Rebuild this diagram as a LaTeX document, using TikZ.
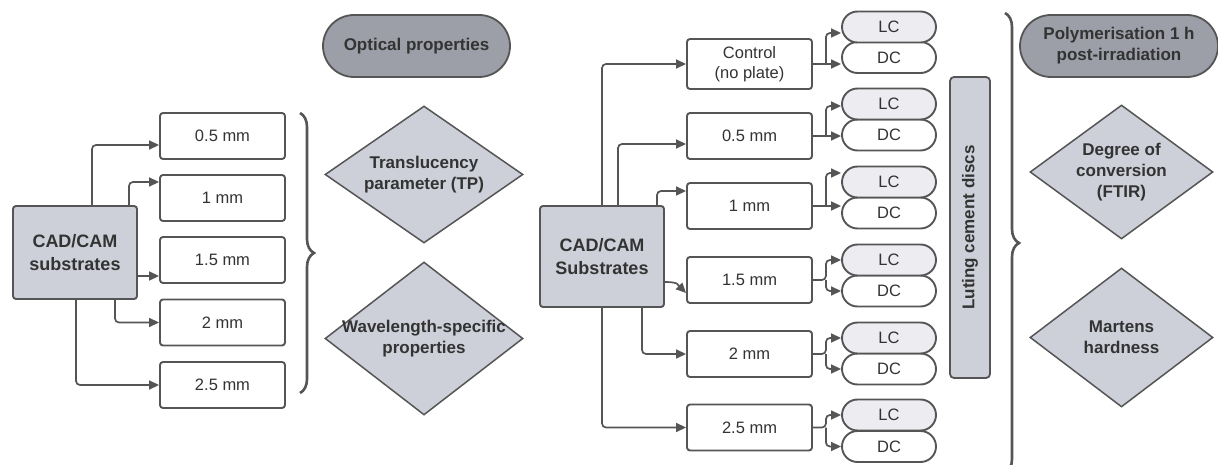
\documentclass[tikz,border=0pt]{standalone}
\usepackage{fontspec}
\setmainfont{Liberation Sans}
\usetikzlibrary{arrows.meta,shapes.geometric,decorations.pathreplacing,calc}
\definecolor{linec}{HTML}{555555}
\definecolor{boxfill}{HTML}{CDD0D9}
\definecolor{pillfill}{HTML}{9C9FA8}
\definecolor{lcfill}{HTML}{EDEDF1}
\definecolor{txt}{HTML}{333333}
\begin{document}
\begin{tikzpicture}[x=1pt,y=-1pt,
 every node/.style={text=txt},
 thkbox/.style={draw=linec,line width=1.9pt,rounded corners=3pt,fill=white,minimum width=125pt,minimum height=46pt,inner sep=0pt,font=\fontsize{16.5}{19.5}\selectfont,align=center},
 mainbox/.style={draw=linec,line width=1.9pt,rounded corners=3pt,fill=boxfill,inner sep=0pt,font=\bfseries\fontsize{18}{23}\selectfont,align=center},
 pill/.style={draw=linec,line width=1.8pt,fill=pillfill,inner sep=0pt,font=\bfseries\fontsize{17}{21}\selectfont,align=center},
 dia/.style={diamond,draw=linec,line width=1.5pt,fill=boxfill,inner sep=0pt},
 diatext/.style={inner sep=0pt,font=\bfseries\fontsize{17}{21}\selectfont,align=center},
 cpill/.style={draw=linec,line width=1.9pt,rounded corners=15.5pt,minimum width=94pt,minimum height=31pt,inner sep=0pt,font=\fontsize{16.5}{19}\selectfont},
 lcp/.style={cpill,fill=lcfill},
 dcp/.style={cpill,fill=white},
 arr/.style={draw=linec,line width=1.7pt,rounded corners=4pt,-{Triangle[length=10pt,width=9pt]}},
 brc/.style={draw=linec,line width=2.6pt,decorate,decoration={brace,amplitude=14pt}}
]
\useasboundingbox[fill=white] (0,0) rectangle (1218,465);

% ---------- left part ----------
\node[mainbox,minimum width=124pt,minimum height=93pt] (L) at (75,252.5) {CAD/CAM\\substrates};
\node[thkbox] (b1) at (222.5,136) {0.5 mm};
\node[thkbox] (b2) at (222.5,198) {1 mm};
\node[thkbox] (b3) at (222.5,260) {1.5 mm};
\node[thkbox] (b4) at (222.5,322.5) {2 mm};
\node[thkbox] (b5) at (222.5,385) {2.5 mm};

\coordinate (t3) at ($(b3.west)+(0,16)$);
\draw[arr] ($(L.north)+(17,0)$) |- ($(b1.west)+(0,9)$);
\draw[arr] ($(L.north)+(54,0)$) |- ($(b2.west)+(0,-16)$);
\draw[arr] (L.east |- t3) -- (t3);
\draw[arr] ($(L.south)+(40,0)$) |- (b4.west);
\draw[arr] ($(L.south)+(1,0)$) |- (b5.west);

\coordinate (lbt) at (300,113);
\coordinate (lbb) at (300,393);
\draw[brc] (lbt) -- (lbb);

\node[pill,minimum width=187pt,minimum height=62pt,rounded corners=31pt] (op) at (416.5,46) {Optical properties};
\node[dia,minimum width=198pt,minimum height=137pt] (d1) at (424,174.5) {};
\node[diatext] (d1t) at (d1) {Translucency\\parameter (TP)};
\node[dia,minimum width=198pt,minimum height=153pt] (d2) at (424,338.5) {};
\node[diatext] (d2t) at (d2) {Wavelength-specific\\properties};

% ---------- right part ----------
\node[mainbox,minimum width=124pt,minimum height=101pt] (R) at (602,256.5) {CAD/CAM\\Substrates};
\node[thkbox,minimum height=50pt] (c0) at (749.5,64) {Control\\(no plate)};
\node[thkbox] (c1) at (749.5,136) {0.5 mm};
\node[thkbox] (c2) at (749.5,206) {1 mm};
\node[thkbox] (c3) at (749.5,280) {1.5 mm};
\node[thkbox] (c4) at (749.5,354) {2 mm};
\node[thkbox] (c5) at (749.5,427.5) {2.5 mm};

\draw[arr] (R.north) |- (c0.west);
\draw[arr] ($(R.north)+(16,0)$) |- ($(c1.west)+(0,8)$);
\draw[arr] ($(R.north)+(55,0)$) |- ($(c2.west)+(0,-15)$);
\draw[arr] ($(R.east)+(0,25.5)$) .. controls +(14,0) and +(-8,-8) .. ($(c3.west)+(0,13)$);
\draw[arr] ($(R.south)+(40,0)$) |- (c4.west);
\draw[arr] (R.south) |- (c5.west);

% LC / DC pills
\node[dcp] (dc1) at (889,57.5) {DC};
\node[lcp] (lc1) at (889,27) {LC};
\node[dcp] (dc2) at (889,135) {DC};
\node[lcp] (lc2) at (889,104) {LC};
\node[dcp] (dc3) at (889,213) {DC};
\node[lcp] (lc3) at (889,182) {LC};
\node[dcp] (dc4) at (889,291) {DC};
\node[lcp] (lc4) at (889,260) {LC};
\node[dcp] (dc5) at (889,369) {DC};
\node[lcp] (lc5) at (889,338) {LC};
\node[dcp] (dc6) at (889,446.5) {DC};
\node[lcp] (lc6) at (889,415) {LC};

% forks
\draw[arr] (c0.east) -- (dc1.west |- c0.east);
\draw[arr] ($(c0.east)+(13,0)$) |- ($(lc1.west)+(0,6)$);
\draw[arr] (c1.east) -- (dc2.west |- c1.east);
\draw[arr] ($(c1.east)+(13,0)$) |- ($(lc2.west)+(0,2)$);
\draw[arr] (c2.east) -- (dc3.west |- c2.east);
\draw[arr] ($(c2.east)+(13,0)$) |- ($(lc3.west)+(0,-9)$);
\draw[arr] (c3.east) -- ++(13,0) |- (lc4.west);
\draw[arr] ($(c3.east)+(13,0)$) |- (dc4.west);
\draw[arr] (c4.east) -- ++(13,0) |- (lc5.west);
\draw[arr] ($(c4.east)+(13,0)$) |- (dc5.west);
\draw[arr] (c5.east) -- ++(13,0) |- (lc6.west);
\draw[arr] ($(c5.east)+(13,0)$) |- (dc6.west);

\node[rotate=90,draw=linec,line width=1.8pt,rounded corners=4pt,fill=boxfill,minimum width=301pt,minimum height=40pt,inner sep=0pt,font=\bfseries\fontsize{17}{20}\selectfont] (lut) at (970,227.5) {Luting cement discs};

\coordinate (rbt) at (1005,13);
\coordinate (rbb) at (1005,473);
\draw[brc] (rbt) -- (rbb);

\node[pill,minimum width=198pt,minimum height=62pt,rounded corners=31pt] (pol) at (1119,46) {Polymerisation 1 h\\post-irradiation};
\node[dia,minimum width=183pt,minimum height=134pt] (d3) at (1121.5,172) {};
\node[diatext] (d3t) at (d3) {Degree of\\conversion\\(FTIR)};
\node[dia,minimum width=183pt,minimum height=139pt] (d4) at (1121.5,337.5) {};
\node[diatext] (d4t) at (d4) {Martens\\hardness};
\end{tikzpicture}
\end{document}
